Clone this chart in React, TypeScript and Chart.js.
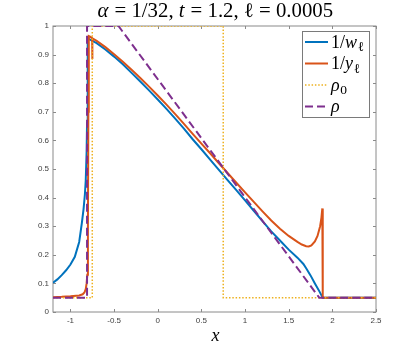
import React, { useEffect, useRef } from "react";
import { Chart, registerables } from "chart.js";

Chart.register(...registerables);

// ---- tick labels ----
const xTicks = [-1, -0.5, 0, 0.5, 1, 1.5, 2, 2.5];
const yTicks = [0, 0.1, 0.2, 0.3, 0.4, 0.5, 0.6, 0.7, 0.8, 0.9, 1];
const xRange = [-1.2, 2.5];
const yRange = [0, 1];

// ---- series: 1/w_l (blue) ----
const blueX = [
  -1.2, -1.15, -1.1, -1.05, -1.0, -0.95, -0.9, -0.87, -0.85, -0.835, -0.825, -0.815, -0.81, -0.805, -0.8,
  -0.78, -0.7, -0.6, -0.5, -0.4, -0.3, -0.2, -0.1, 0, 0.1, 0.2, 0.3, 0.4, 0.5, 0.6, 0.7, 0.8, 0.9,
  1.0, 1.1, 1.2, 1.3, 1.4, 1.5, 1.6, 1.668, 1.7, 1.75, 1.8, 1.85, 1.89, 2.5,
];
const blueY = [
  0.102, 0.114, 0.129, 0.146, 0.166, 0.193, 0.245, 0.31, 0.36, 0.41, 0.46, 0.56, 0.66, 0.82, 0.958,
  0.953, 0.94, 0.918, 0.893, 0.866, 0.836, 0.806, 0.775, 0.743, 0.71, 0.676, 0.641, 0.604, 0.569, 0.533, 0.497, 0.461, 0.426,
  0.39, 0.354, 0.318, 0.282, 0.25, 0.218, 0.19, 0.168, 0.153, 0.128, 0.1, 0.073, 0.05, 0.05,
];

// ---- series: 1/y_l (orange) ----
const orangeX = [
  -1.2, -1.1, -1.0, -0.9, -0.86, -0.84, -0.825, -0.815, -0.807, -0.8, -0.795, -0.79, -0.77, -0.752, -0.75, -0.748,
  -0.7, -0.6, -0.5, -0.4, -0.3, -0.2, -0.1, 0, 0.1, 0.2, 0.3, 0.4, 0.5, 0.6, 0.7, 0.8, 0.9, 1.0, 1.1, 1.2, 1.3,
  1.4, 1.5, 1.6, 1.65, 1.7, 1.73, 1.76, 1.8, 1.83, 1.86, 1.875, 1.885, 1.89, 2.5,
];
const orangeY = [
  0.052, 0.053, 0.055, 0.058, 0.062, 0.068, 0.08, 0.1, 0.13, 0.3, 0.7, 0.965, 0.962, 0.958, 0.885, 0.957,
  0.948, 0.926, 0.901, 0.875, 0.847, 0.818, 0.788, 0.757, 0.725, 0.692, 0.658, 0.623, 0.589, 0.555, 0.52, 0.486, 0.452, 0.418, 0.385, 0.352, 0.32,
  0.291, 0.266, 0.245, 0.236, 0.23, 0.229, 0.233, 0.247, 0.266, 0.3, 0.33, 0.362, 0.05, 0.05,
];

// ---- series: rho_0 (yellow dotted) ----
const rho0X = [-1.2, -0.75, -0.75, 0.75, 0.75, 2.5];
const rho0Y = [0.05, 0.05, 1, 1, 0.05, 0.05];

// ---- series: rho (purple dashed) ----
const rhoX = [-1.2, -0.81, -0.81, -0.45, 1.85, 2.5];
const rhoY = [0.05, 0.05, 1, 1, 0.05, 0.05];

type Run = { t: string; it?: boolean; sub?: boolean };

const titleRuns: Run[] = [
  { t: "α", it: true },
  { t: " = 1/32, " },
  { t: "t", it: true },
  { t: " = 1.2, " },
  { t: "ℓ" },
  { t: " = 0.0005" },
];
const xLabelRuns: Run[] = [{ t: "x", it: true }];
const legendRuns: Run[][] = [
  [{ t: "1/" }, { t: "w", it: true }, { t: "ℓ", sub: true }],
  [{ t: "1/" }, { t: "y", it: true }, { t: "ℓ", sub: true }],
  [{ t: "ρ", it: true }, { t: "0", sub: true }],
  [{ t: "ρ", it: true }],
];

const SERIF = "'Liberation Serif', 'DejaVu Serif', serif";

function runFont(r: Run, size: number) {
  const s = r.sub ? size * 0.75 : size;
  return `${r.it ? "italic " : ""}${s}px ${SERIF}`;
}

function runsWidth(ctx: CanvasRenderingContext2D, runs: Run[], size: number) {
  let w = 0;
  for (const r of runs) {
    ctx.font = runFont(r, size);
    w += ctx.measureText(r.t).width;
  }
  return w;
}

function drawRuns(
  ctx: CanvasRenderingContext2D,
  runs: Run[],
  x: number,
  y: number,
  size: number,
  align: "left" | "center"
) {
  let cx = align === "center" ? x - runsWidth(ctx, runs, size) / 2 : x;
  ctx.textAlign = "left";
  ctx.textBaseline = "alphabetic";
  for (const r of runs) {
    ctx.font = runFont(r, size);
    ctx.fillText(r.t, cx, r.sub ? y + size * 0.22 : y);
    cx += ctx.measureText(r.t).width + (r.it ? size * 0.04 : 0);
  }
}

const framePlugin = {
  id: "frame",
  beforeDatasetsDraw(chart: any) {
    const { ctx, chartArea: a } = chart;
    const xs = chart.scales.x;
    const ys = chart.scales.y;
    ctx.save();
    ctx.strokeStyle = "#8a8a8a";
    ctx.lineWidth = 1;
    ctx.setLineDash([]);
    ctx.strokeRect(a.left, a.top, a.right - a.left, a.bottom - a.top);
    const tl = 3;
    ctx.beginPath();
    for (const t of xs.ticks) {
      const px = Math.round(xs.getPixelForValue(t.value)) + 0.5;
      ctx.moveTo(px, a.bottom);
      ctx.lineTo(px, a.bottom - tl);
      ctx.moveTo(px, a.top);
      ctx.lineTo(px, a.top + tl);
    }
    for (const t of ys.ticks) {
      const py = Math.round(ys.getPixelForValue(t.value)) + 0.5;
      ctx.moveTo(a.left, py);
      ctx.lineTo(a.left + tl, py);
      ctx.moveTo(a.right, py);
      ctx.lineTo(a.right - tl, py);
    }
    ctx.stroke();
    ctx.restore();
  },
};

const textPlugin = {
  id: "texts",
  afterDraw(chart: any) {
    const { ctx, chartArea: a } = chart;
    ctx.save();
    ctx.fillStyle = "#000";
    const cx = (a.left + a.right) / 2;
    // title fitted to the reference width
    let size = 17;
    const w = runsWidth(ctx, titleRuns, size);
    size = (size * 234) / w;
    drawRuns(ctx, titleRuns, cx, 16.5, size, "center");
    // x label
    drawRuns(ctx, xLabelRuns, cx + 1, 341, 18, "center");

    // legend
    const bx = 302, by = 31, bw = 67, bh = 86;
    ctx.fillStyle = "#fff";
    ctx.fillRect(bx, by, bw, bh);
    ctx.strokeStyle = "#7a7a7a";
    ctx.lineWidth = 1;
    ctx.setLineDash([]);
    ctx.strokeRect(bx + 0.5, by + 0.5, bw, bh);
    const dsets = chart.data.datasets;
    for (let i = 0; i < legendRuns.length; i++) {
      const ds = dsets[i];
      const ry = by + 11 + i * 21.5;
      ctx.save();
      ctx.strokeStyle = ds.borderColor;
      ctx.lineWidth = ds.borderWidth;
      ctx.setLineDash(ds.borderDash || []);
      ctx.beginPath();
      ctx.moveTo(305, ry);
      ctx.lineTo(328, ry);
      ctx.stroke();
      ctx.restore();
      ctx.fillStyle = "#000";
      drawRuns(ctx, legendRuns[i], 331, ry + 5.5, 18, "left");
    }
    ctx.restore();
  },
};

const pts = (xs: number[], ys: number[]) => xs.map((x, i) => ({ x, y: ys[i] }));

export default function App() {
  const ref = useRef<HTMLCanvasElement>(null);
  useEffect(() => {
    const tickFont = { family: "'Liberation Sans', Arial, sans-serif", size: 8 };
    const chart = new Chart(ref.current as HTMLCanvasElement, {
      type: "line",
      data: {
        datasets: [
          {
            label: "1/w",
            data: pts(blueX, blueY),
            borderColor: "#0072BD",
            borderWidth: 2,
            order: 4,
          },
          {
            label: "1/y",
            data: pts(orangeX, orangeY),
            borderColor: "#D95319",
            borderWidth: 2,
            order: 3,
          },
          {
            label: "rho0",
            data: pts(rho0X, rho0Y),
            borderColor: "#EDB120",
            borderWidth: 1.5,
            borderDash: [1.5, 1.8],
            order: 2,
          },
          {
            label: "rho",
            data: pts(rhoX, rhoY),
            borderColor: "#7E2F8E",
            borderWidth: 2,
            borderDash: [8, 4],
            order: 1,
          },
        ] as any,
      },
      options: {
        responsive: false,
        animation: false,
        parsing: true,
        elements: {
          point: { radius: 0, hoverRadius: 0 },
          line: { tension: 0, fill: false, borderCapStyle: "butt" },
        },
        layout: { padding: { top: 26, right: 39, left: 0, bottom: 0 } },
        plugins: {
          legend: { display: false },
          title: { display: false },
          tooltip: { enabled: false },
        },
        scales: {
          x: {
            type: "linear",
            min: xRange[0],
            max: xRange[1],
            afterBuildTicks: (s: any) => {
              s.ticks = xTicks.map((v) => ({ value: v }));
            },
            afterFit: (s: any) => {
              s.height = 39;
            },
            grid: { display: false, drawTicks: false },
            border: { display: false },
            ticks: {
              padding: 4,
              maxRotation: 0,
              autoSkip: false,
              font: tickFont,
              color: "#404040",
              callback: (v: any) => String(v),
            },
          },
          y: {
            type: "linear",
            min: yRange[0],
            max: yRange[1],
            afterBuildTicks: (s: any) => {
              s.ticks = yTicks.map((v) => ({ value: v }));
            },
            afterFit: (s: any) => {
              s.width = 53;
            },
            grid: { display: false, drawTicks: false },
            border: { display: false },
            ticks: {
              padding: 4,
              autoSkip: false,
              font: tickFont,
              color: "#404040",
              callback: (v: any) => String(v),
            },
          },
        },
      } as any,
      plugins: [framePlugin, textPlugin],
    });
    return () => chart.destroy();
  }, []);
  return (
    <div style={{ position: "absolute", left: 0, top: 0, width: 415, height: 351, background: "#fff" }}>
      <canvas ref={ref} width={415} height={351} style={{ display: "block" }} />
    </div>
  );
}
